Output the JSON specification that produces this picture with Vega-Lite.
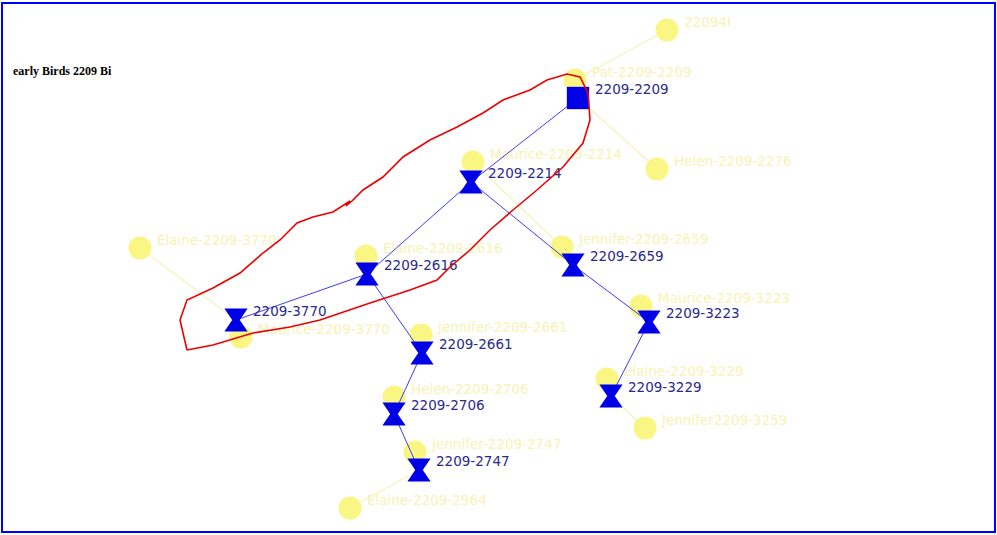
{
  "$schema": "https://vega.github.io/schema/vega-lite/v6.json",
  "width": 993,
  "height": 529,
  "padding": {"left": 2, "top": 3, "right": 2, "bottom": 3},
  "autosize": {"type": "none"},
  "background": "white",
  "view": {"stroke": "#0000ff", "strokeWidth": 2, "fill": "white"},
  "datasets": {
    "blue": [
      {"id": "2209-2209", "x": 578, "y": 98, "kind": "root"},
      {"id": "2209-2214", "x": 471, "y": 182, "kind": "member"},
      {"id": "2209-2616", "x": 367, "y": 274, "kind": "member"},
      {"id": "2209-3770", "x": 236, "y": 320, "kind": "member"},
      {"id": "2209-2661", "x": 422, "y": 353, "kind": "member"},
      {"id": "2209-2706", "x": 394, "y": 414, "kind": "member"},
      {"id": "2209-2747", "x": 419, "y": 470, "kind": "member"},
      {"id": "2209-2659", "x": 573, "y": 265, "kind": "member"},
      {"id": "2209-3223", "x": 649, "y": 322, "kind": "member"},
      {"id": "2209-3229", "x": 611, "y": 396, "kind": "member"}
    ],
    "yellow": [
      {"name": "22094I", "x": 667, "y": 30},
      {"name": "Pat-2209-2209", "x": 575, "y": 80},
      {"name": "Maurice-2209-2214", "x": 473, "y": 162},
      {"name": "Helen-2209-2276", "x": 657, "y": 169},
      {"name": "Elaine-2209-3770", "x": 140, "y": 248},
      {"name": "Elaine-2209-2616", "x": 366, "y": 256},
      {"name": "Jennifer-2209-2659", "x": 562, "y": 247},
      {"name": "Maurice-2209-3770", "x": 241, "y": 337},
      {"name": "Jennifer-2209-2661", "x": 421, "y": 335},
      {"name": "Maurice-2209-3223", "x": 641, "y": 306},
      {"name": "Helen-2209-2706", "x": 394, "y": 397},
      {"name": "Elaine-2209-3229", "x": 607, "y": 379},
      {"name": "Jennifer2209-3259", "x": 645, "y": 428},
      {"name": "Jennifer-2209-2747", "x": 415, "y": 452},
      {"name": "Elaine-2209-2964", "x": 350, "y": 508}
    ],
    "links": [
      {"kind": "yellow", "x": 667, "y": 30, "x2": 575, "y2": 80},
      {"kind": "yellow", "x": 578, "y": 98, "x2": 657, "y2": 169},
      {"kind": "yellow", "x": 140, "y": 248, "x2": 236, "y2": 320},
      {"kind": "yellow", "x": 611, "y": 396, "x2": 645, "y2": 428},
      {"kind": "yellow", "x": 419, "y": 470, "x2": 350, "y2": 508},
      {"kind": "yellow", "x": 473, "y": 162, "x2": 562, "y2": 247},
      {"kind": "yellow", "x": 241, "y": 337, "x2": 236, "y2": 320},
      {"kind": "blue", "x": 578, "y": 98, "x2": 471, "y2": 182},
      {"kind": "blue", "x": 471, "y": 182, "x2": 367, "y2": 274},
      {"kind": "blue", "x": 367, "y": 274, "x2": 236, "y2": 320},
      {"kind": "blue", "x": 367, "y": 274, "x2": 422, "y2": 353},
      {"kind": "blue", "x": 422, "y": 353, "x2": 394, "y2": 414},
      {"kind": "blue", "x": 394, "y": 414, "x2": 419, "y2": 470},
      {"kind": "blue", "x": 471, "y": 182, "x2": 573, "y2": 265},
      {"kind": "blue", "x": 573, "y": 265, "x2": 649, "y2": 322},
      {"kind": "blue", "x": 649, "y": 322, "x2": 611, "y2": 396}
    ],
    "loop": [
      {"i": 0, "x": 187, "y": 350},
      {"i": 1, "x": 180, "y": 320},
      {"i": 2, "x": 187, "y": 300},
      {"i": 3, "x": 213, "y": 288},
      {"i": 4, "x": 240, "y": 273},
      {"i": 5, "x": 263, "y": 253},
      {"i": 6, "x": 280, "y": 240},
      {"i": 7, "x": 297, "y": 223},
      {"i": 8, "x": 313, "y": 217},
      {"i": 9, "x": 333, "y": 212},
      {"i": 10, "x": 350, "y": 201},
      {"i": 11, "x": 346, "y": 206},
      {"i": 12, "x": 352, "y": 201},
      {"i": 13, "x": 363, "y": 190},
      {"i": 14, "x": 383, "y": 177},
      {"i": 15, "x": 403, "y": 157},
      {"i": 16, "x": 430, "y": 140},
      {"i": 17, "x": 457, "y": 127},
      {"i": 18, "x": 483, "y": 113},
      {"i": 19, "x": 503, "y": 100},
      {"i": 20, "x": 530, "y": 90},
      {"i": 21, "x": 547, "y": 80},
      {"i": 22, "x": 567, "y": 74},
      {"i": 23, "x": 580, "y": 77},
      {"i": 24, "x": 588, "y": 93},
      {"i": 25, "x": 590, "y": 120},
      {"i": 26, "x": 583, "y": 143},
      {"i": 27, "x": 563, "y": 167},
      {"i": 28, "x": 537, "y": 190},
      {"i": 29, "x": 513, "y": 210},
      {"i": 30, "x": 490, "y": 230},
      {"i": 31, "x": 470, "y": 250},
      {"i": 32, "x": 450, "y": 267},
      {"i": 33, "x": 437, "y": 280},
      {"i": 34, "x": 410, "y": 290},
      {"i": 35, "x": 370, "y": 303},
      {"i": 36, "x": 320, "y": 320},
      {"i": 37, "x": 290, "y": 327},
      {"i": 38, "x": 253, "y": 333},
      {"i": 39, "x": 213, "y": 345},
      {"i": 40, "x": 187, "y": 350}
    ],
    "title": [{"text": "early Birds 2209 Bi", "x": 13, "y": 75}]
  },
  "encoding": {
    "x": {"field": "x", "type": "quantitative", "scale": {"domain": [2, 995], "nice": false, "zero": false}, "axis": null},
    "y": {"field": "y", "type": "quantitative", "scale": {"domain": [3, 532], "nice": false, "zero": false, "reverse": true}, "axis": null}
  },
  "layer": [
    {
      "data": {"name": "links"},
      "transform": [{"filter": "datum.kind === 'yellow'"}],
      "mark": {"type": "rule", "color": "#f6f3b8", "strokeWidth": 1.2},
      "encoding": {"x2": {"field": "x2"}, "y2": {"field": "y2"}}
    },
    {
      "data": {"name": "yellow"},
      "mark": {"type": "point", "shape": "circle", "filled": true, "size": 530, "color": "#f9f684", "opacity": 1},
      "encoding": {}
    },
    {
      "data": {"name": "yellow"},
      "mark": {"type": "text", "align": "left", "baseline": "middle", "dx": 17, "dy": -7, "font": "DejaVu Sans", "fontSize": 13.5, "color": "#f6f3b4"},
      "encoding": {"text": {"field": "name"}}
    },
    {
      "data": {"name": "links"},
      "transform": [{"filter": "datum.kind === 'blue'"}],
      "mark": {"type": "rule", "color": "#3b3bff", "strokeWidth": 1},
      "encoding": {"x2": {"field": "x2"}, "y2": {"field": "y2"}}
    },
    {
      "data": {"name": "blue"},
      "transform": [{"filter": "datum.kind === 'member'"}],
      "mark": {"type": "point", "shape": "M-1,-1L1,-1L0.15,0.25L-0.15,0.25Z M-0.15,-0.25L0.15,-0.25L1,1L-1,1Z", "filled": true, "size": 540, "color": "#0000e6", "opacity": 1},
      "encoding": {}
    },
    {
      "data": {"name": "blue"},
      "transform": [{"filter": "datum.kind === 'root'"}],
      "mark": {"type": "point", "shape": "square", "filled": true, "size": 500, "color": "#0000e6", "opacity": 1},
      "encoding": {}
    },
    {
      "data": {"name": "blue"},
      "mark": {"type": "text", "align": "left", "baseline": "middle", "dx": 17, "dy": -8, "font": "DejaVu Sans", "fontSize": 13.5, "color": "#2a2a8a"},
      "encoding": {"text": {"field": "id"}}
    },
    {
      "data": {"name": "loop"},
      "mark": {"type": "line", "color": "#ee0000", "strokeWidth": 1.6, "interpolate": "linear"},
      "encoding": {"order": {"field": "i", "type": "quantitative"}}
    },
    {
      "data": {"name": "title"},
      "mark": {"type": "text", "align": "left", "baseline": "alphabetic", "font": "Liberation Serif", "fontWeight": "bold", "fontSize": 12, "color": "black"},
      "encoding": {"text": {"field": "text"}}
    }
  ]
}
